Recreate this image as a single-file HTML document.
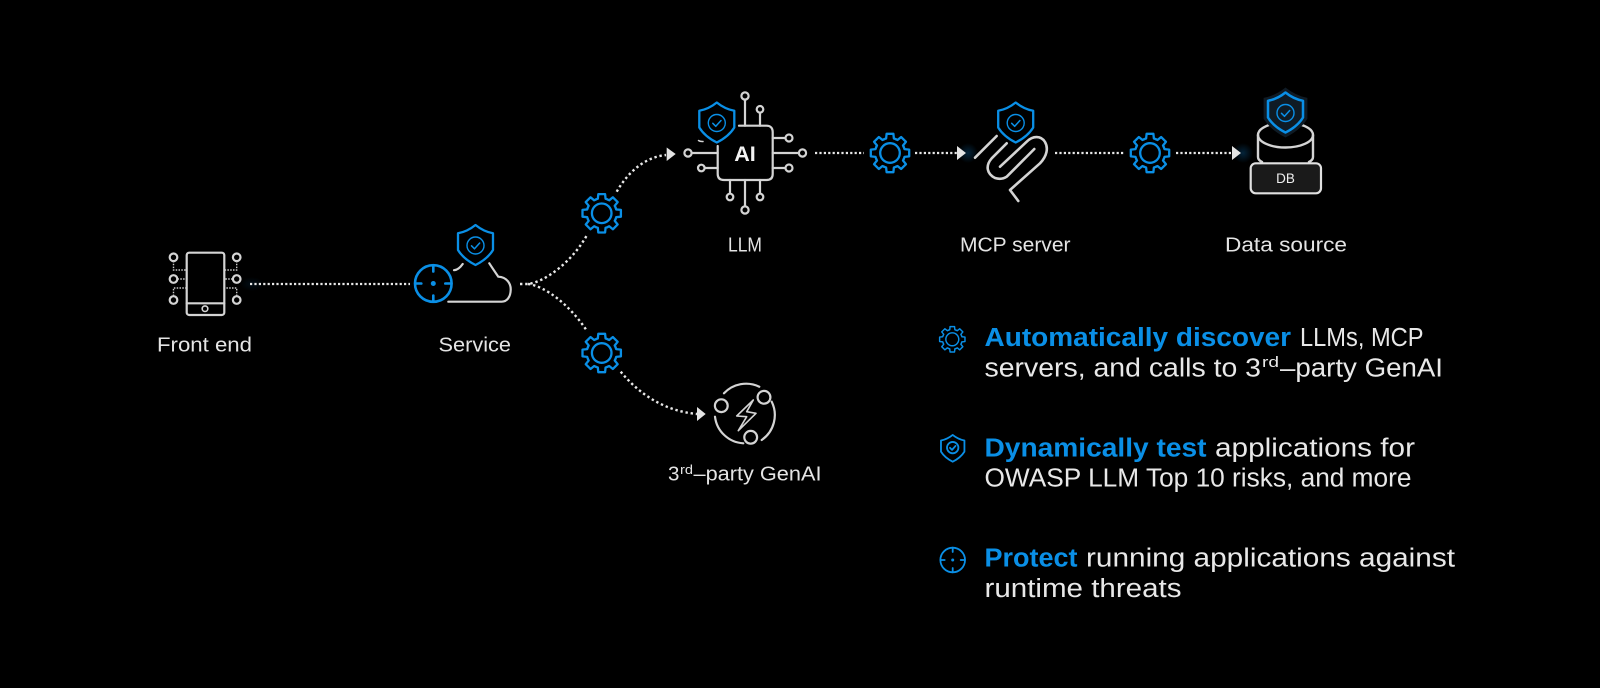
<!DOCTYPE html>
<html lang="en">
<head>
<meta charset="utf-8">
<title>AI application security diagram</title>
<style>
html,body{margin:0;padding:0;background:#000;width:1600px;height:688px;overflow:hidden}
svg{display:block}
text{font-family:"Liberation Sans",sans-serif}
.lb{font-size:20.5px;fill:#e4e4e4}
.p{font-size:25.5px;fill:#e8e8e8}
.b{font-size:25.5px;fill:#0a8fe6;font-weight:bold}
.w{fill:none;stroke:#d4d4d4;stroke-width:2.2;stroke-linecap:round;stroke-linejoin:round}
.bl{fill:none;stroke:#0a8fe6;stroke-width:2.3;stroke-linecap:round;stroke-linejoin:round}
.d{fill:none;stroke:#e8e8e8;stroke-width:2.2;stroke-dasharray:2.2 2.2}
.c{fill:none;stroke:#e8e8e8;stroke-width:2.4;stroke-dasharray:2.4 2.8}
.sd{fill:none;stroke:#c8c8c8;stroke-width:1.4;stroke-dasharray:1.5 1.3}
.a{fill:#e4e4e4}
</style>
</head>
<body>
<svg width="1600" height="688" viewBox="0 0 1600 688" xmlns="http://www.w3.org/2000/svg">
<defs>
<radialGradient id="g"><stop offset="0" stop-color="#0a6fb5" stop-opacity=".32"/><stop offset="1" stop-color="#0a6fb5" stop-opacity="0"/></radialGradient>
<path id="t" d="M-5.74-13.86A15 15 0 0 1-3.88-14.49L-3.39-19.2 3.39-19.2 3.88-14.49A15 15 0 0 1 5.74-13.86"/>
<g id="gear">
<use href="#t"/><use href="#t" transform="rotate(45)"/><use href="#t" transform="rotate(90)"/><use href="#t" transform="rotate(135)"/>
<use href="#t" transform="rotate(180)"/><use href="#t" transform="rotate(225)"/><use href="#t" transform="rotate(270)"/><use href="#t" transform="rotate(315)"/>
<circle r="9.8"/>
</g>
<g id="shield">
<path fill="#000" d="M0-20Q8-13.5 17.5-11.7V5Q12 14 0 20Q-12 14-17.5 5V-11.7Q-8-13.5 0-20Z"/>
<circle cy="0.5" r="8.5" stroke-width="1.4"/>
<path stroke-width="1.5" d="M-4 0.8-1 3.8 4.2-2"/>
</g>
</defs>
<rect width="1600" height="688" fill="#000"/>

<!-- phone -->
<rect x="186.7" y="252.7" width="37.6" height="62.3" rx="2.5" class="w"/>
<path class="w" d="M186.7 303.3H224.3"/>
<circle cx="205" cy="308.7" r="2.8" class="w" style="stroke-width:1.6"/>
<g class="w">
<circle cx="173.5" cy="257.3" r="3.8"/><circle cx="173.5" cy="279" r="3.8"/><circle cx="173.5" cy="300" r="3.8"/>
<circle cx="236.7" cy="257.3" r="3.8"/><circle cx="236.7" cy="279" r="3.8"/><circle cx="236.7" cy="300" r="3.8"/>
</g>
<path class="sd" d="M173.5 261V270H186M177.5 279H186M173.5 296V288H186M236.7 261V270H225M232.5 279H225M236.7 296V288H225"/>
<text class="lb" x="157" y="351.6" textLength="95" lengthAdjust="spacingAndGlyphs">Front end</text>

<!-- line front end to service -->
<ellipse cx="252" cy="284" rx="12" ry="7" fill="url(#g)" opacity=".4"/>
<path class="d" d="M250 284H410"/>

<!-- service -->
<path class="w" d="M489.3 263.3Q493 269 498.3 276.7C507 277 511 284 510.7 290C510.5 297 507 301.7 501.7 301.7H448.3M454 270.2Q458.5 270 462.7 264"/>
<g class="bl" style="stroke-width:2.6">
<circle cx="433.3" cy="283.5" r="18.3"/>
<path d="M433.3 265.5V271.5M433.3 295.5V301.5M415.3 283.5H421.3M445.3 283.5H451.3"/>
</g>
<circle cx="433.3" cy="283.5" r="2.5" fill="#0a8fe6"/>
<use href="#shield" x="475.5" y="245" class="bl"/>
<text class="lb" x="438.5" y="351.6" textLength="72.5" lengthAdjust="spacingAndGlyphs">Service</text>

<!-- branch curves -->
<path class="c" d="M520 284H528C545 282 572 262 587 235"/>
<path class="c" d="M528 284C545 286 570 305 587 331"/>
<path class="c" d="M616.7 191.7C628 172 645 157 666 155"/>
<path class="c" d="M620.7 371.7C640 395 665 411 697 414"/>
<path class="a" d="M666.7 147.5 675.7 154 666.7 161Z"/>
<path class="a" d="M697 407 705.7 414 697 421Z"/>
<use href="#gear" x="601.7" y="213.3" class="bl"/>
<use href="#gear" x="601.7" y="353" class="bl"/>

<!-- LLM chip -->
<g class="w">
<path d="M717.7 146V174C717.7 178 720 180 724 180H766.5C770.5 180 772.7 178 772.7 174V132C772.7 128 770.5 125.7 766.5 125.7H739"/>
<path d="M745 125.7V100M760 125.7V113M772.7 138H785M772.7 153H798M772.7 168H785M717.7 153H692M717.7 168H705.5M730 180V193M745 180V206M760 180V193"/>
<circle cx="745" cy="96" r="3.6"/><circle cx="760" cy="109.3" r="3.3"/>
<circle cx="789" cy="138" r="3.5"/><circle cx="802.5" cy="153" r="3.6"/><circle cx="789" cy="168" r="3.5"/>
<circle cx="688" cy="153" r="3.6"/><circle cx="701.3" cy="168" r="3.3"/>
<circle cx="730" cy="197" r="3.3"/><circle cx="745" cy="210" r="3.6"/><circle cx="760" cy="197" r="3.3"/>
<path d="M698.5 140.5Q700 141.7 703 141.5" style="stroke-width:1.5"/>
</g>
<use href="#shield" x="716.8" y="122.5" class="bl"/>
<text x="745" y="161" text-anchor="middle" font-size="21.5" font-weight="bold" fill="#f2f2f2">AI</text>
<text class="lb" x="728" y="251.7" textLength="34" lengthAdjust="spacingAndGlyphs">LLM</text>

<!-- chain -->
<path class="d" d="M815 153H864"/>
<use href="#gear" x="890" y="153" class="bl"/>
<path class="d" d="M915 153H957"/>
<circle cx="968" cy="153" r="10" fill="url(#g)"/>
<path class="a" d="M957 146 966 153 957 160Z"/>

<!-- MCP -->
<g class="w" style="stroke-width:2.6">
<path d="M975 157.7 996.7 136"/>
<path d="M1000 166.7 1026.7 141.7C1033 135.5 1041 135.5 1045 142C1048.5 148 1047 156 1040 163.3L1010 190 1018.3 201"/>
<path d="M1006.7 143.3 991.7 158.3C985 166 987 174 995 178C1000 179.5 1004 178.5 1006.7 176.7L1034.3 149"/>
</g>
<use href="#shield" x="1015.7" y="122.5" class="bl"/>
<text class="lb" x="960" y="251.7" textLength="110.5" lengthAdjust="spacingAndGlyphs">MCP server</text>

<path class="d" d="M1055 153H1125"/>
<use href="#gear" x="1150" y="153" class="bl"/>
<path class="d" d="M1176 153H1232"/>
<circle cx="1243" cy="153" r="10" fill="url(#g)"/>
<path class="a" d="M1232 146 1241 153 1232 160Z"/>

<!-- DB -->
<g class="w" style="stroke-width:2.4">
<ellipse cx="1285.5" cy="135" rx="27.5" ry="12.5"/>
<path d="M1258 135V157Q1258 160 1262 162M1313 135V157Q1313 160 1309 162"/>
</g>
<rect x="1250.7" y="163.3" width="70.3" height="30" rx="5" fill="#1a1a1a" stroke="#e0e0e0" stroke-width="2.2"/>
<text x="1285.5" y="183" text-anchor="middle" font-size="13.5" fill="#eee">DB</text>
<path transform="translate(1285.5 112.5) scale(1.25)" fill="#0f1b25" d="M0-20Q8-13.5 17.5-11.7V5Q12 14 0 20Q-12 14-17.5 5V-11.7Q-8-13.5 0-20Z"/>
<g transform="translate(1285.5 112.5)" class="bl" style="stroke-width:2.5">
<path fill="#0f1b25" d="M0-20Q8-13.5 17.5-11.7V5Q12 14 0 20Q-12 14-17.5 5V-11.7Q-8-13.5 0-20Z"/>
<circle cy="0.5" r="8.5" style="stroke-width:1.4"/>
<path d="M-4 0.8-1 3.8 4.2-2" style="stroke-width:1.5"/>
</g>
<text class="lb" x="1225" y="251.7" textLength="122" lengthAdjust="spacingAndGlyphs">Data source</text>

<!-- GenAI -->
<g class="w">
<path d="M724 393.3A30.3 30.3 0 0 1 759.3 386.7M771.7 401.7A30.3 30.3 0 0 1 761.7 440M743.3 443.3A30.3 30.3 0 0 1 715 416.7"/>
<circle cx="721.3" cy="405.7" r="6.4"/>
<circle cx="764" cy="397.3" r="6.4"/>
<circle cx="750.7" cy="437.3" r="6.4"/>
<path style="stroke-width:1.6" d="M753.3 400 736.7 416 746.7 416.7 738.3 430.7 756 413.3 746.7 411.7Z"/>
</g>
<text class="lb" x="668" y="480.7">3</text>
<text class="lb" x="680" y="474" style="font-size:12.5px" textLength="13" lengthAdjust="spacingAndGlyphs">rd</text>
<text class="lb" x="693.5" y="480.7" textLength="128" lengthAdjust="spacingAndGlyphs">–party GenAI</text>

<!-- legend icons -->
<g transform="translate(952.3 339.3) scale(.66)" class="bl" style="stroke-width:2.2"><use href="#gear"/></g>
<g transform="translate(952.7 448.3) scale(.67)" class="bl" style="stroke-width:2.7">
<path d="M0-20Q8-13.5 17.5-11.7V5Q12 14 0 20Q-12 14-17.5 5V-11.7Q-8-13.5 0-20Z"/>
<circle cy="-1" r="8.5"/><path d="M-4-.7-1 2.3 4.2-3.5"/>
</g>
<g class="bl" style="stroke-width:1.8">
<circle cx="952.7" cy="560" r="12.3"/>
<path d="M952.7 547.7V552M952.7 568V572.3M940.4 560H944.7M960.7 560H965"/>
</g>
<circle cx="952.7" cy="560" r="1.5" fill="#0a8fe6"/>

<!-- legend text -->
<text class="b" x="984.5" y="346" textLength="306.5" lengthAdjust="spacingAndGlyphs">Automatically discover</text>
<text class="p" x="1300" y="346" textLength="123.5" lengthAdjust="spacingAndGlyphs">LLMs, MCP</text>
<text class="p" x="984.5" y="376.7" textLength="276.5" lengthAdjust="spacingAndGlyphs">servers, and calls to 3</text>
<text class="p" x="1262" y="367" style="font-size:15px" textLength="17" lengthAdjust="spacingAndGlyphs">rd</text>
<text class="p" x="1280" y="376.7" textLength="163" lengthAdjust="spacingAndGlyphs">–party GenAI</text>

<text class="b" x="984.5" y="456.7" textLength="222" lengthAdjust="spacingAndGlyphs">Dynamically test</text>
<text class="p" x="1215" y="456.7" textLength="200" lengthAdjust="spacingAndGlyphs">applications for</text>
<text class="p" x="984.5" y="486.7" textLength="427" lengthAdjust="spacingAndGlyphs">OWASP LLM Top 10 risks, and more</text>

<text class="b" x="984.5" y="566.7" textLength="93" lengthAdjust="spacingAndGlyphs">Protect</text>
<text class="p" x="1086" y="566.7" textLength="369" lengthAdjust="spacingAndGlyphs">running applications against</text>
<text class="p" x="984.5" y="597" textLength="197" lengthAdjust="spacingAndGlyphs">runtime threats</text>
</svg>
</body>
</html>
